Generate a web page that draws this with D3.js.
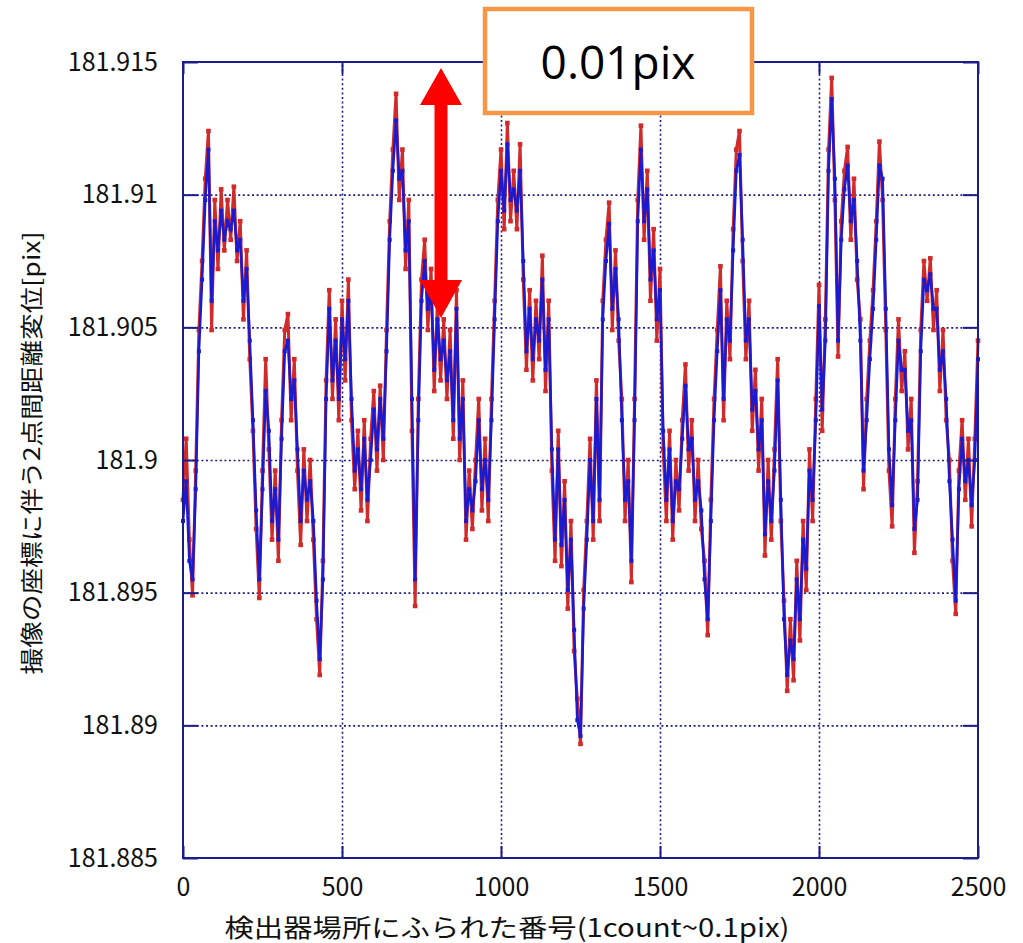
<!DOCTYPE html>
<html lang="ja">

<head>
	<meta charset="utf-8">
	<title>2点間距離変位</title>
	<script src="https://d3js.org/d3.v7.min.js"></script>
	<style type="text/css">
		body { margin: 0; background: #fff; }
		.axis text { font: 25px "Noto Sans CJK JP", sans-serif; fill: #111; }
	</style>
</head>

<body>
	<script type="text/javascript">
	// colours
	var navy = "#1c1c8a"
	var redC = "#d02a2a"
	var blueC = "#1a1ad0"
	var orange = "#f79646"

	// axis ticks
	var yTicks = [181.885, 181.89, 181.895, 181.9, 181.905, 181.91, 181.915]
	var yTickLabels = ["181.885", "181.89", "181.895", "181.9", "181.905", "181.91", "181.915"]
	var xTicks = [0, 500, 1000, 1500, 2000, 2500]
	var xTickLabels = ["0", "500", "1000", "1500", "2000", "2500"]

	// sample number step (one value every 10 counts, 0..2500)
	var countStep = 10

	// red series
	var redValues = [
		181.8985,181.9008,181.8970,181.8949,181.8996,181.9049,181.9075,181.9106,181.9124,181.9049,
		181.9098,181.9072,181.9102,181.9079,181.9098,181.9083,181.9103,181.9075,181.9090,181.9053,
		181.9079,181.9038,181.9011,181.8974,181.8948,181.8996,181.9038,181.9004,181.8970,181.8996,
		181.8962,181.9015,181.9049,181.9055,181.9015,181.9038,181.8996,181.8968,181.9004,181.8977,
		181.9000,181.8970,181.8940,181.8919,181.8962,181.9030,181.9064,181.9023,181.9053,181.9015,
		181.9060,181.9030,181.9068,181.9015,181.8989,181.9011,181.8981,181.9015,181.8977,181.9008,
		181.9026,181.8996,181.9028,181.9000,181.9049,181.9090,181.9117,181.9138,181.9098,181.9117,
		181.9072,181.9098,181.9011,181.8945,181.9023,181.9068,181.9083,181.9049,181.9072,181.9026,
		181.9060,181.9030,181.9053,181.9023,181.9049,181.9008,181.9064,181.9000,181.9030,181.8970,
		181.8996,181.8974,181.9000,181.9023,181.8981,181.9008,181.8977,181.9023,181.9060,181.9098,
		181.9117,181.9087,181.9127,181.9090,181.9109,181.9087,181.9119,181.9068,181.9034,181.9064,
		181.9030,181.9060,181.9038,181.9077,181.9026,181.9060,181.8996,181.8962,181.9011,181.8960,
		181.8992,181.8944,181.8977,181.8928,181.8910,181.8893,181.8951,181.8977,181.9008,181.8970,
		181.9030,181.8977,181.9060,181.9083,181.9097,181.9049,181.9079,181.9045,181.9023,181.8977,
		181.9000,181.8954,181.9023,181.9098,181.9126,181.9083,181.9109,181.9060,181.9087,181.9045,
		181.9072,181.9004,181.8977,181.9011,181.8970,181.9000,181.8981,181.9015,181.9036,181.8996,
		181.9015,181.8977,181.9000,181.8974,181.8962,181.8934,181.8985,181.9023,181.9049,181.9073,
		181.9015,181.9060,181.9038,181.9087,181.9117,181.9124,181.9075,181.9038,181.9060,181.9011,
		181.9034,181.8996,181.9023,181.8964,181.9000,181.8970,181.9004,181.9038,181.8977,181.8947,
		181.8913,181.8940,181.8917,181.8962,181.8932,181.8977,181.8951,181.9004,181.8977,181.9023,
		181.9066,181.9011,181.9053,181.9117,181.9144,181.9098,181.9039,181.9090,181.9109,181.9118,
		181.9083,181.9106,181.9068,181.9053,181.8989,181.9023,181.9045,181.9064,181.9090,181.9120,
		181.9098,181.9049,181.8996,181.8975,181.9023,181.9053,181.9026,181.9041,181.9004,181.9023,
		181.8965,181.8992,181.9049,181.9075,181.9060,181.9076,181.9049,181.9064,181.9026,181.9049,
		181.9015,181.9000,181.8962,181.8942,181.8996,181.9015,181.8985,181.9008,181.8975,181.9008,
		181.9045
	]

	// blue series
	var blueValues = [
		181.8977,181.8992,181.8962,181.8955,181.8989,181.9041,181.9068,181.9098,181.9117,181.9060,
		181.9090,181.9079,181.9094,181.9083,181.9090,181.9087,181.9094,181.9079,181.9083,181.9060,
		181.9072,181.9045,181.9015,181.8981,181.8955,181.8989,181.9026,181.9011,181.8977,181.8989,
		181.8970,181.9008,181.9041,181.9045,181.9023,181.9030,181.9004,181.8977,181.8996,181.8985,
		181.8992,181.8977,181.8947,181.8925,181.8955,181.9023,181.9057,181.9030,181.9045,181.9023,
		181.9053,181.9038,181.9060,181.9023,181.8996,181.9004,181.8989,181.9008,181.8985,181.9000,
		181.9019,181.9004,181.9023,181.9008,181.9041,181.9083,181.9109,181.9128,181.9106,181.9109,
		181.9079,181.9090,181.9023,181.8955,181.9015,181.9060,181.9075,181.9057,181.9064,181.9034,
		181.9053,181.9038,181.9045,181.9030,181.9041,181.9015,181.9057,181.9008,181.9023,181.8977,
		181.8989,181.8981,181.8992,181.9015,181.8989,181.9000,181.8985,181.9015,181.9053,181.9090,
		181.9109,181.9094,181.9119,181.9098,181.9102,181.9094,181.9109,181.9075,181.9041,181.9057,
		181.9038,181.9053,181.9045,181.9068,181.9034,181.9053,181.9004,181.8970,181.9004,181.8968,
		181.8985,181.8951,181.8970,181.8936,181.8902,181.8896,181.8944,181.8970,181.9000,181.8977,
		181.9023,181.8985,181.9053,181.9075,181.9089,181.9057,181.9072,181.9053,181.9015,181.8985,
		181.8992,181.8962,181.9015,181.9090,181.9117,181.9090,181.9102,181.9068,181.9079,181.9053,
		181.9064,181.9011,181.8985,181.9004,181.8977,181.8992,181.8989,181.9008,181.9028,181.9004,
		181.9008,181.8985,181.8992,181.8981,181.8955,181.8940,181.8977,181.9015,181.9041,181.9064,
		181.9023,181.9053,181.9045,181.9079,181.9109,181.9115,181.9083,181.9045,181.9053,181.9019,
		181.9026,181.9004,181.9015,181.8972,181.8992,181.8977,181.8996,181.9030,181.8985,181.8940,
		181.8919,181.8932,181.8925,181.8955,181.8940,181.8970,181.8959,181.8996,181.8985,181.9015,
		181.9058,181.9019,181.9045,181.9109,181.9136,181.9106,181.9045,181.9083,181.9102,181.9111,
		181.9090,181.9098,181.9075,181.9045,181.8996,181.9015,181.9038,181.9057,181.9083,181.9111,
		181.9106,181.9057,181.9004,181.8983,181.9015,181.9045,181.9034,181.9034,181.9011,181.9015,
		181.8974,181.8985,181.9041,181.9068,181.9064,181.9070,181.9057,181.9057,181.9034,181.9041,
		181.9023,181.8992,181.8970,181.8947,181.8989,181.9008,181.8992,181.9000,181.8983,181.9000,
		181.9038
	]

	// window + plot frame
	var w = 1023
	var h = 943
	var padL = 183, padR = 978, padT = 62, padB = 858

	var xScale = d3.scaleLinear().domain([0, 2500]).range([padL, padR])
	var yScale = d3.scaleLinear().domain([181.885, 181.915]).range([padB, padT])

	var svg = d3.select("body")
				.append("svg")
				.attr("width", w)
				.attr("height", h)

	// dotted grid
	svg.append("g")
		.attr("transform", "translate(0," + padB + ")")
		.call(d3.axisBottom(xScale).tickValues(xTicks.slice(1, -1)).tickSize(-(padB - padT)).tickFormat(""))
		.call(g => g.select(".domain").remove())
		.selectAll("line")
			.attr("stroke", navy)
			.attr("stroke-width", 1.6)
			.style("stroke-dasharray", ("2, 2.6"))
	svg.append("g")
		.attr("transform", "translate(" + padL + ",0)")
		.call(d3.axisLeft(yScale).tickValues(yTicks.slice(1, -1)).tickSize(-(padR - padL)).tickFormat(""))
		.call(g => g.select(".domain").remove())
		.selectAll("line")
			.attr("stroke", navy)
			.attr("stroke-width", 1.6)
			.style("stroke-dasharray", ("2, 2.6"))

	// data points
	var redData = redValues.map((v, i) => ({c: i * countStep, v: v}))
	var blueData = blueValues.map((v, i) => ({c: i * countStep, v: v}))

	var line = d3.line()
				.x(d => xScale(d.c))
				.y(d => yScale(d.v))

	function drawSeries(data, col, lw, ms) {
		svg.append("path")
			.attr("d", line(data))
			.attr("fill", "none")
			.attr("stroke", col)
			.attr("stroke-width", lw)
			.attr("stroke-linejoin", "miter")
		svg.append("g")
			.selectAll("rect")
			.data(data)
			.enter()
			.append("rect")
			.attr("x", d => xScale(d.c) - ms / 2)
			.attr("y", d => yScale(d.v) - ms / 2)
			.attr("width", ms)
			.attr("height", ms)
			.attr("fill", col)
	}
	drawSeries(redData, redC, 3, 4.6)
	drawSeries(blueData, blueC, 2.6, 4)

	// frame
	svg.append("rect")
		.attr("x", padL)
		.attr("y", padT)
		.attr("width", padR - padL)
		.attr("height", padB - padT)
		.attr("fill", "none")
		.attr("stroke", navy)
		.attr("stroke-width", 2)

	// axes with inward ticks
	var yAxis = d3.axisLeft(yScale).tickValues(yTicks).tickSize(-15).tickPadding(25)
				.tickFormat((d, i) => yTickLabels[i])
	var xAxis = d3.axisBottom(xScale).tickValues(xTicks).tickSize(-12).tickPadding(20)
				.tickFormat((d, i) => xTickLabels[i])

	svg.append("g")
		.attr("class", "axis")
		.attr("transform", "translate(" + padL + ",0)")
		.call(yAxis)
		.call(g => g.select(".domain").remove())
		.call(g => g.selectAll("line").attr("stroke", navy).attr("stroke-width", 2))
	svg.append("g")
		.attr("class", "axis")
		.attr("transform", "translate(0," + padB + ")")
		.call(xAxis)
		.call(g => g.select(".domain").remove())
		.call(g => g.selectAll("line").attr("stroke", navy).attr("stroke-width", 2))
	svg.append("g")
		.attr("transform", "translate(" + padR + ",0)")
		.call(d3.axisRight(yScale).tickValues(yTicks).tickSize(-15).tickFormat(""))
		.call(g => g.select(".domain").remove())
		.call(g => g.selectAll("line").attr("stroke", navy).attr("stroke-width", 2))
	svg.append("g")
		.attr("transform", "translate(0," + padT + ")")
		.call(d3.axisTop(xScale).tickValues(xTicks).tickSize(-12).tickFormat(""))
		.call(g => g.select(".domain").remove())
		.call(g => g.selectAll("line").attr("stroke", navy).attr("stroke-width", 2))

	// axis titles
	svg.append("text")
		.attr("x", 507)
		.attr("y", 937)
		.attr("text-anchor", "middle")
		.attr("textLength", 565)
		.attr("lengthAdjust", "spacingAndGlyphs")
		.style("font", "25px 'Noto Sans CJK JP', sans-serif")
		.attr("fill", "#111")
		.text("検出器場所にふられた番号(1count~0.1pix)")

	svg.append("text")
		.attr("transform", "translate(40,453) rotate(-90)")
		.attr("text-anchor", "middle")
		.attr("textLength", 443)
		.attr("lengthAdjust", "spacingAndGlyphs")
		.style("font", "23px 'Noto Sans CJK JP', sans-serif")
		.attr("fill", "#111")
		.text("撮像の座標に伴う2点間距離変位[pix]")

	// annotation: double arrow
	var ax = 441
	var arrowPts = [
		[ax, 68], [ax + 21, 105], [ax + 6.5, 105], [ax + 6.5, 280], [ax + 21, 280],
		[ax, 318], [ax - 21, 280], [ax - 6.5, 280], [ax - 6.5, 105], [ax - 21, 105]
	]
	svg.append("polygon")
		.attr("points", arrowPts.map(p => p.join(",")).join(" "))
		.attr("fill", "#ff0000")

	// annotation box
	svg.append("rect")
		.attr("x", 485)
		.attr("y", 9)
		.attr("width", 267)
		.attr("height", 104)
		.attr("fill", "#fff")
		.attr("stroke", orange)
		.attr("stroke-width", 4.5)
	svg.append("text")
		.attr("x", 618)
		.attr("y", 79)
		.attr("text-anchor", "middle")
		.style("font", "46px 'Open Sans', sans-serif")
		.attr("fill", "#000")
		.text("0.01pix")
	</script>
</body>
</html>
